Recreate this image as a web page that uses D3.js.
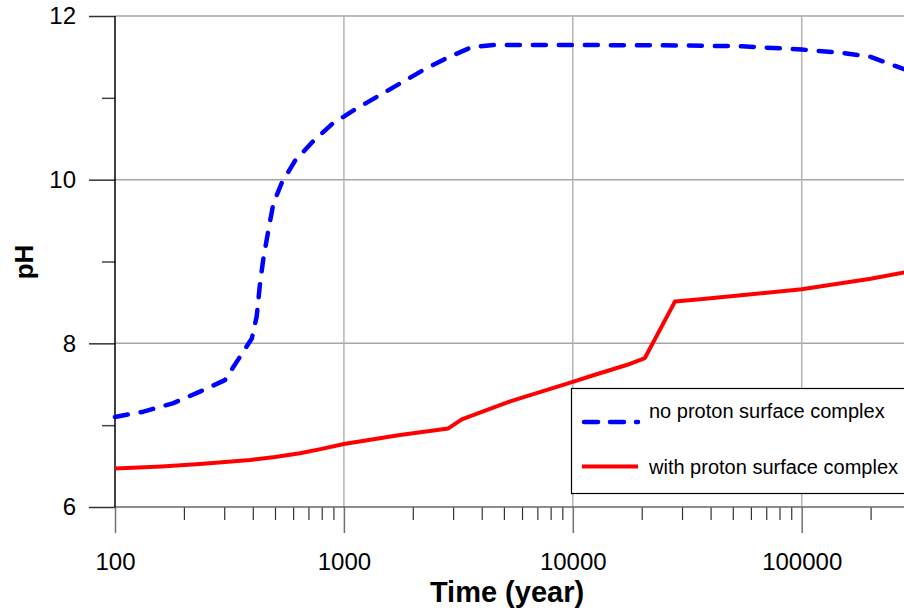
<!DOCTYPE html>
<html>
<head>
<meta charset="utf-8">
<script src="https://cdn.jsdelivr.net/npm/d3@7"></script>
<style>
  html, body { margin: 0; padding: 0; background: #fff; }
  svg { display: block; font-family: "Liberation Sans", Arial, sans-serif; }
</style>
</head>
<body>
<svg id="chart" width="904" height="612"></svg>
<script>
// ---- data ----
const noProtonTime = [100, 133, 180, 235, 302, 396, 416, 430, 444, 468, 492, 535, 611, 728, 889, 1107, 1390, 1770, 2222, 2832, 3620, 4500, 10000, 30000, 55000, 100000, 150000, 200000, 256000, 300000];
const noProtonPH   = [7.10, 7.165, 7.27, 7.41, 7.55, 8.06, 8.33, 8.73, 9.02, 9.385, 9.71, 9.96, 10.23, 10.46, 10.68, 10.85, 11.01, 11.18, 11.34, 11.49, 11.62, 11.646, 11.646, 11.64, 11.63, 11.59, 11.55, 11.50, 11.39, 11.32];
const withProtonTime = [100, 160, 235, 389, 500, 643, 800, 1000, 1758, 2857, 3273, 5324, 10000, 12300, 17180, 20650, 27930, 36000, 100000, 200000, 300000];
const withProtonPH   = [6.47, 6.495, 6.525, 6.575, 6.61, 6.656, 6.71, 6.77, 6.88, 6.96, 7.07, 7.29, 7.53, 7.61, 7.735, 7.82, 8.51, 8.54, 8.66, 8.79, 8.88];
const yMajorTicks = [6, 8, 10, 12];
const yMinorTicks = [7, 9, 11];
const xMajorTicks = [100, 1000, 10000, 100000];
const seriesNames = ["no proton surface complex", "with proton surface complex"];
const xTitle = "Time (year)";
const yTitle = "pH";

(function () {
// ---- layout ----
const svg = d3.select("#chart");
const pLeft = 115, pTop = 16, pBottom = 507;
const decade = 228.9;
const W = 904;
const x = d3.scaleLog().domain([100, 300000]).range([pLeft, pLeft + decade * Math.log10(3000)]);
const y = d3.scaleLinear().domain([6, 12]).range([pBottom, pTop]);

// minor x ticks
const xMinorTicks = [];
for (let p = 100; p < 300000; p *= 10) {
  for (let k = 2; k <= 9; k++) { if (p * k <= 300000) xMinorTicks.push(p * k); }
}

// grid
const grid = svg.append("g");
grid.selectAll("line.h").data([8, 10, 12]).enter().append("line")
  .attr("x1", pLeft).attr("x2", W)
  .attr("y1", d => y(d)).attr("y2", d => y(d))
  .attr("stroke", "#a6a6a6").attr("stroke-width", 1.5);
grid.selectAll("line.v").data([1000, 10000, 100000]).enter().append("line")
  .attr("x1", d => x(d)).attr("x2", d => x(d))
  .attr("y1", pTop).attr("y2", pBottom)
  .attr("stroke", "#b4b4b4").attr("stroke-width", 1.5);

// x axis
const xAxisMinor = d3.axisBottom(x).tickValues(xMinorTicks).tickSize(13).tickFormat("");
const gxm = svg.append("g").attr("transform", `translate(0,${pBottom})`).call(xAxisMinor);
gxm.select(".domain").remove();
gxm.selectAll(".tick line").attr("stroke", "#333").attr("stroke-width", 1.2);

const xAxis = d3.axisBottom(x).tickValues(xMajorTicks).tickSize(26).tickPadding(20).tickFormat(d3.format("d"));
const gx = svg.append("g").attr("transform", `translate(0,${pBottom})`).call(xAxis);
gx.select(".domain").remove();
gx.selectAll(".tick line").attr("stroke", "#707070").attr("stroke-width", 1.5);
gx.selectAll(".tick text").attr("font-size", 24).attr("fill", "#000")
  .attr("font-family", "'Liberation Sans', Arial, sans-serif");
svg.append("line").attr("x1", pLeft).attr("x2", W).attr("y1", pBottom).attr("y2", pBottom)
  .attr("stroke", "#666").attr("stroke-width", 1.5);

// y axis
const yAxisMinor = d3.axisLeft(y).tickValues(yMinorTicks).tickSize(13).tickFormat("");
const gym = svg.append("g").attr("transform", `translate(${pLeft},0)`).call(yAxisMinor);
gym.select(".domain").remove();
gym.selectAll(".tick line").attr("stroke", "#444").attr("stroke-width", 1.5);

const yAxis = d3.axisLeft(y).tickValues(yMajorTicks).tickSize(26).tickPadding(13).tickFormat(d3.format("d"));
const gy = svg.append("g").attr("transform", `translate(${pLeft},0)`).call(yAxis);
gy.select(".domain").remove();
gy.selectAll(".tick line").attr("stroke", "#333").attr("stroke-width", 1.5);
gy.selectAll(".tick text").attr("font-size", 24).attr("fill", "#000")
  .attr("font-family", "'Liberation Sans', Arial, sans-serif");
svg.append("line").attr("x1", pLeft).attr("x2", pLeft).attr("y1", pTop).attr("y2", pBottom)
  .attr("stroke", "#000").attr("stroke-width", 1.5);

// titles
svg.append("text").attr("x", 507).attr("y", 602).attr("text-anchor", "middle")
  .attr("font-size", 29).attr("font-weight", "bold").text(xTitle);
svg.append("text").attr("transform", "translate(33,262) rotate(-90)").attr("text-anchor", "middle")
  .attr("font-size", 26).attr("font-weight", "bold").text(yTitle);

// lines
const line = d3.line().x(d => x(d[0])).y(d => y(d[1]));
const blueData = noProtonTime.map((t, i) => [t, noProtonPH[i]]);
const redData = withProtonTime.map((t, i) => [t, withProtonPH[i]]);

svg.append("path").datum(redData).attr("d", line)
  .attr("fill", "none").attr("stroke", "#ff0000").attr("stroke-width", 4)
  .attr("stroke-linejoin", "round");
svg.append("path").datum(blueData).attr("d", line)
  .attr("fill", "none").attr("stroke", "#0000ff").attr("stroke-width", 4.5)
  .attr("stroke-dasharray", "13,13").attr("stroke-linecap", "round").attr("stroke-linejoin", "round");

// legend
const lg = svg.append("g");
lg.append("rect").attr("x", 571.5).attr("y", 388.5).attr("width", 400).attr("height", 105)
  .attr("fill", "#fff").attr("stroke", "#000").attr("stroke-width", 1.2);
lg.append("line").attr("x1", 584).attr("x2", 638).attr("y1", 422).attr("y2", 422)
  .attr("stroke", "#0000ff").attr("stroke-width", 4.5).attr("stroke-dasharray", "14,12")
  .attr("stroke-linecap", "round");
lg.append("line").attr("x1", 582).attr("x2", 638).attr("y1", 466.5).attr("y2", 466.5)
  .attr("stroke", "#ff0000").attr("stroke-width", 4);
lg.append("text").attr("x", 649).attr("y", 418).attr("font-size", 20).text(seriesNames[0]);
lg.append("text").attr("x", 649).attr("y", 474).attr("font-size", 20).text(seriesNames[1]);
})();
</script>
</body>
</html>
